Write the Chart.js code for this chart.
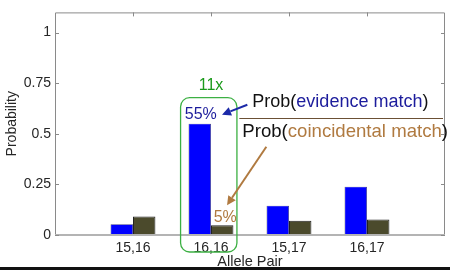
<!DOCTYPE html>
<html>
<head>
<meta charset="utf-8">
<script src="https://cdn.jsdelivr.net/npm/chart.js@4/dist/chart.umd.min.js"></script>
<style>
html,body{margin:0;padding:0;background:#fff;}
#wrap{position:relative;width:450px;height:270px;}
#bar{position:absolute;left:0;top:267px;width:450px;height:3px;background:#111;}
</style>
</head>
<body>
<div id="wrap"><canvas id="c" width="450" height="270"></canvas><div id="bar"></div></div>
<script>
const categories = ['', '15,16', '16,16', '15,17', '16,17', ''];
const evidenceMatch = [null, 0.053, 0.55, 0.145, 0.239, null];
const coincidentalMatch = [null, 0.092, 0.048, 0.071, 0.076, null];
const yTicks = [0, 0.25, 0.5, 0.75, 1];
const ratioLabel = '11x';
const evidenceLabel = '55%';
const coincidentalLabel = '5%';

const GREY = '#8a8a8a';
const FONT = '"Liberation Sans", Arial, sans-serif';

const annot = {
  id: 'annot',
  afterDatasetsDraw(chart) {
    const ctx = chart.ctx, x = chart.scales.x, y = chart.scales.y, a = chart.chartArea;
    ctx.save();
    // box + ticks
    ctx.strokeStyle = GREY; ctx.lineWidth = 1;
    ctx.beginPath();
    ctx.moveTo(a.left + 0.5, a.bottom); ctx.lineTo(a.left + 0.5, a.top + 0.5);
    ctx.lineTo(a.right - 0.5, a.top + 0.5); ctx.lineTo(a.right - 0.5, a.bottom);
    ctx.stroke();
    ctx.strokeStyle = '#b4b4b4'; ctx.lineWidth = 2;
    ctx.beginPath(); ctx.moveTo(a.left, a.bottom); ctx.lineTo(a.right, a.bottom); ctx.stroke();
    ctx.strokeStyle = GREY; ctx.lineWidth = 1;
    ctx.beginPath();
    yTicks.forEach(v => {
      const py = Math.round(y.getPixelForValue(v)) + 0.5;
      ctx.moveTo(a.left, py); ctx.lineTo(a.left + 4, py);
      ctx.moveTo(a.right, py); ctx.lineTo(a.right - 4, py);
    });
    for (let i = 1; i <= 4; i++) {
      const px = Math.round(x.getPixelForValue(i)) + 0.5;
      ctx.moveTo(px, a.top); ctx.lineTo(px, a.top + 4);
    }
    ctx.stroke();

    const cx = x.getPixelForValue(2);
    const step = x.getPixelForValue(3) - x.getPixelForValue(2);
    const bw = chart.getDatasetMeta(0).data[2].width;
    const topB = y.getPixelForValue(evidenceMatch[2]);
    const topC = y.getPixelForValue(coincidentalMatch[2]);

    // green rounded rect
    ctx.strokeStyle = '#3cb043'; ctx.lineWidth = 1.3;
    ctx.beginPath();
    ctx.roundRect(cx - bw - 8, topB - 26, 2 * bw + 11.5, a.bottom + 17 - (topB - 26), 9);
    ctx.stroke();

    ctx.textBaseline = 'middle';
    ctx.textAlign = 'center';
    ctx.font = '16px ' + FONT;
    ctx.fillStyle = '#1a9a1a';
    ctx.fillText(ratioLabel, cx, topB - 38);
    ctx.fillStyle = '#1c1c9c';
    ctx.fillText(evidenceLabel, cx - bw / 2 + 1, topB - 9);
    ctx.fillStyle = '#b07a40';
    ctx.fillText(coincidentalLabel, cx + bw / 2 + 3, topC - 8);

    // fraction text
    ctx.textAlign = 'left';
    const tx = cx + step * 0.53;
    const y1 = topB - 22, y2 = topB + 8;
    let w;
    ctx.font = '18px ' + FONT;
    const parts1 = [['Prob(', '#111'], ['evidence match', '#1c1c9c'], [')', '#111']];
    w = tx;
    parts1.forEach(p => { ctx.fillStyle = p[1]; ctx.fillText(p[0], w, y1); w += ctx.measureText(p[0]).width; });
    ctx.font = '18.6px ' + FONT;
    const parts2 = [['Prob(', '#111'], ['coincidental match', '#b07a40'], [')', '#111']];
    w = tx - 10;
    parts2.forEach(p => { ctx.fillStyle = p[1]; ctx.fillText(p[0], w, y2); w += ctx.measureText(p[0]).width; });
    ctx.strokeStyle = '#6b5035'; ctx.lineWidth = 1;
    ctx.beginPath(); ctx.moveTo(tx - 13, Math.round(topB - 5.5) + 0.5); ctx.lineTo(a.right - 2, Math.round(topB - 5.5) + 0.5); ctx.stroke();

    // arrows
    function arrow(x0, y0, x1, y1, col) {
      ctx.strokeStyle = col; ctx.fillStyle = col; ctx.lineWidth = 2;
      const ang = Math.atan2(y1 - y0, x1 - x0);
      const hl = 9, hw = 4.5;
      const bx = x1 - hl * Math.cos(ang), by = y1 - hl * Math.sin(ang);
      ctx.beginPath(); ctx.moveTo(x0, y0); ctx.lineTo(bx, by); ctx.stroke();
      ctx.beginPath();
      ctx.moveTo(x1, y1);
      ctx.lineTo(bx + hw * Math.sin(ang), by - hw * Math.cos(ang));
      ctx.lineTo(bx - hw * Math.sin(ang), by + hw * Math.cos(ang));
      ctx.closePath(); ctx.fill();
    }
    arrow(tx - 5, y1 + 3, cx + 11, topB - 9, '#1c2aa8');
    arrow(tx + 14, y2 + 15, cx + 16, topC - 20, '#b07a40');
    ctx.restore();
  }
};

new Chart(document.getElementById('c'), {
  type: 'bar',
  data: {
    labels: categories,
    datasets: [
      { label: 'Prob(evidence match)', data: evidenceMatch, backgroundColor: '#0000ff', borderColor: '#333', borderWidth: 0.6 },
      { label: 'Prob(coincidental match)', data: coincidentalMatch, backgroundColor: '#4b4a2c', borderColor: '#222', borderWidth: 1 }
    ]
  },
  options: {
    responsive: false,
    animation: false,
    devicePixelRatio: 1,
    layout: { padding: { top: 7, right: 1, left: 0, bottom: 0 } },
    plugins: { legend: { display: false }, tooltip: { enabled: false } },
    datasets: { bar: { barPercentage: 1, categoryPercentage: 0.575 } },
    scales: {
      x: {
        offset: false,
        grid: { display: false, drawTicks: false },
        border: { display: false },
        ticks: { color: '#262626', font: { size: 14, family: FONT }, padding: 5, maxRotation: 0, autoSkip: false },
        title: { display: true, text: 'Allele Pair', color: '#262626', font: { size: 14.5, family: FONT }, padding: { top: 0, bottom: -1 } },
        afterFit(s) { s.height = 35; }
      },
      y: {
        min: 0, max: 1.1,
        afterBuildTicks(s) { s.ticks = yTicks.map(v => ({ value: v })); },
        grid: { display: false, drawTicks: false },
        border: { display: false },
        ticks: { color: '#262626', font: { size: 14, family: FONT }, padding: 4,
                 callback: v => String(v) },
        title: { display: true, text: 'Probability', color: '#262626', font: { size: 14, family: FONT }, padding: { top: 4, bottom: 0 } },
        afterFit(s) { s.width = 55; }
      }
    }
  },
  plugins: [annot]
});
</script>
</body>
</html>
